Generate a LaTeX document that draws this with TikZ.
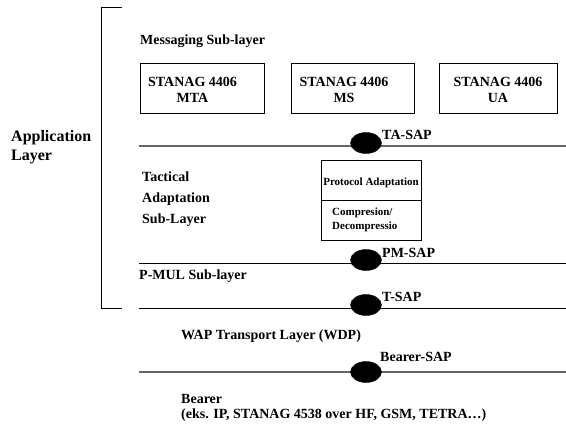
\documentclass[tikz,border=0pt]{standalone}
\usepackage{fontspec}
\setmainfont{Liberation Serif}
\usetikzlibrary{shapes.geometric}
\begin{document}
\begin{tikzpicture}[x=1pt,y=-1pt,
  lbl/.style={anchor=base west, inner sep=0pt, font=\bfseries\fontsize{14}{16}\selectfont},
  mlbl/.style={anchor=north west, inner sep=0pt, align=left},
  boxtxt/.style={anchor=center, inner sep=0pt, align=center, font=\bfseries\fontsize{14}{16}\selectfont},
  sbox/.style={draw=black, line width=0.8pt},
  sap/.style={ellipse, fill=black, draw=black, minimum width=31pt, minimum height=21pt, inner sep=0pt},
  blackline/.style={draw=black, line width=0.9pt},
  grayline/.style={draw=black!60, line width=1.3pt},
  bracketline/.style={draw=black, line width=0.8pt}
]
\useasboundingbox (0,0) rectangle (566,428);
\fill[white] (0,0) rectangle (566,428);

% bracket
\coordinate (brTR) at (122,7);
\coordinate (brTL) at (101,7);
\coordinate (brBL) at (101,308);
\coordinate (brBR) at (122,308);
\draw[bracketline] (brTR) -- (brTL) -- (brBL) -- (brBR);

\node[mlbl, font=\bfseries\fontsize{16}{19}\selectfont] (app) at (11,130) {Application\\Layer};

% messaging sub-layer
\node[lbl] (msg) at (140,45) {Messaging Sub-layer};
\draw[sbox] (140,63) rectangle (264,113);
\draw[sbox] (291,63) rectangle (414,113);
\draw[sbox] (439,63) rectangle (557,113);
\node[boxtxt] (mta) at (192.5,90) {STANAG 4406\\MTA};
\node[boxtxt] (ms) at (344,90) {STANAG 4406\\MS};
\node[boxtxt] (ua) at (498,90) {STANAG 4406\\UA};

% lines
\coordinate (taL) at (139,146);  \coordinate (taR) at (566,146);
\coordinate (pmL) at (139,263);  \coordinate (pmR) at (566,263);
\coordinate (tL) at (139,308);   \coordinate (tR) at (566,308);
\coordinate (beL) at (139,372);  \coordinate (beR) at (566,372);
\draw[grayline] (taL) -- (taR);
\draw[blackline] (pmL) -- (pmR);
\draw[blackline] (tL) -- (tR);
\draw[grayline] (beL) -- (beR);

% SAP ellipses
\node[sap] (tasap) at (366,143) {};
\node[sap] (pmsap) at (366,260) {};
\node[sap] (tsap) at (366,305) {};
\node[sap] (besap) at (366,372) {};
\node[lbl] (talbl) at (382,139.5) {TA-SAP};
\node[lbl] (pmlbl) at (382,257) {PM-SAP};
\node[lbl] (tlbl) at (382,301) {T-SAP};
\node[lbl] (belbl) at (380,361) {Bearer-SAP};

% tactical adaptation
\node[mlbl, font=\bfseries\fontsize{14}{21}\selectfont] (tact) at (142,171.5) {Tactical\\Adaptation\\Sub-Layer};
\draw[sbox] (321,160) rectangle (421,240);
\coordinate (divL) at (321,200); \coordinate (divR) at (421,200);
\draw[sbox] (divL) -- (divR);
\node[anchor=base, inner sep=0pt, font=\bfseries\fontsize{11}{13}\selectfont] (proto) at (371,185.5) {Protocol Adaptation};
\node[mlbl, font=\bfseries\fontsize{11}{13.5}\selectfont] (comp) at (332,208) {Compresion/\\Decompressio};

\node[lbl] (pmul) at (139,279) {P-MUL Sub-layer};
\node[lbl] (wap) at (181,339) {WAP Transport Layer (WDP)};
\node[lbl] (bearer) at (181,403) {Bearer};
\node[lbl] (eks) at (181,418) {(eks. IP, STANAG 4538 over HF, GSM, TETRA…)};
\end{tikzpicture}
\end{document}
